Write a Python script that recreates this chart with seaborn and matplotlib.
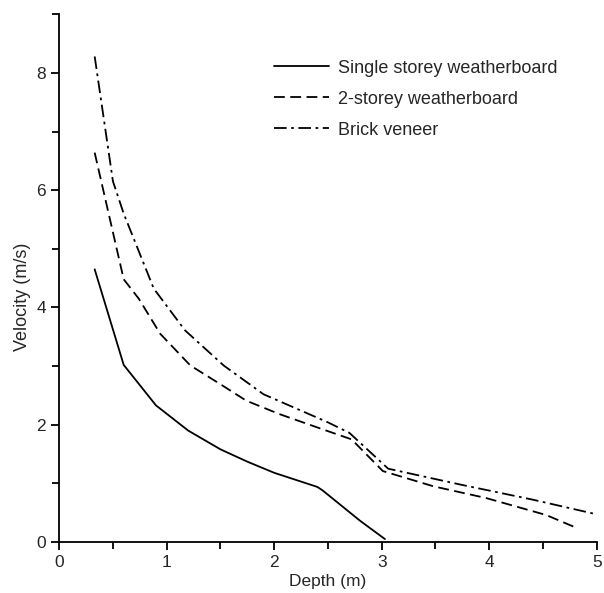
import pandas as pd
import matplotlib
matplotlib.use('Agg')
import matplotlib.pyplot as plt
import seaborn as sns
from matplotlib.ticker import MultipleLocator

# Values
single_depth = [0.33, 0.60, 0.90, 1.20, 1.50, 1.75, 2.00, 2.40, 2.45, 2.80, 3.03]
single_vel = [4.65, 3.02, 2.33, 1.90, 1.58, 1.37, 1.18, 0.94, 0.88, 0.36, 0.05]

two_depth = [0.33, 0.60, 0.74, 0.94, 1.22, 1.50, 1.74, 2.05, 2.50, 2.72, 3.01, 3.48, 3.97, 4.53, 4.80]
two_vel = [6.64, 4.48, 4.15, 3.55, 3.01, 2.69, 2.41, 2.18, 1.89, 1.75, 1.21, 0.95, 0.75, 0.46, 0.25]

brick_depth = [0.33, 0.50, 0.60, 0.88, 1.17, 1.53, 1.90, 2.50, 2.70, 3.06, 3.73, 4.41, 4.98]
brick_vel = [8.28, 6.15, 5.60, 4.32, 3.61, 3.01, 2.52, 2.04, 1.86, 1.25, 0.98, 0.72, 0.48]

labels = ['Single storey weatherboard', '2-storey weatherboard', 'Brick veneer']

df = pd.concat([
    pd.DataFrame({'Depth': single_depth, 'Velocity': single_vel, 'House': labels[0]}),
    pd.DataFrame({'Depth': two_depth, 'Velocity': two_vel, 'House': labels[1]}),
    pd.DataFrame({'Depth': brick_depth, 'Velocity': brick_vel, 'House': labels[2]}),
])

sns.set_style('ticks')
plt.rcParams['font.family'] = ['Liberation Sans', 'DejaVu Sans']

fig = plt.figure(figsize=(6.04, 5.93), dpi=100)
ax = fig.add_axes([0.098, 0.086, 0.89, 0.89])

dashes = {labels[0]: '', labels[1]: (6, 3), labels[2]: (7, 2.5, 1.5, 2.5)}
sns.lineplot(data=df, x='Depth', y='Velocity', style='House', dashes=dashes,
             color='black', linewidth=1.3, sort=False, estimator=None, ax=ax)

ax.set_xlim(0, 5)
ax.set_ylim(0, 9)
ax.xaxis.set_major_locator(MultipleLocator(1))
ax.xaxis.set_minor_locator(MultipleLocator(0.5))
ax.yaxis.set_major_locator(MultipleLocator(2))
ax.yaxis.set_minor_locator(MultipleLocator(1))
ax.tick_params(which='both', direction='out', color='black', width=1.3, labelsize=12.5)
ax.tick_params(which='major', length=6)
ax.tick_params(which='minor', length=5)
ax.set_xlabel('Depth (m)', fontsize=12.5, labelpad=3)
ax.set_ylabel('Velocity (m/s)', fontsize=13)
ax.yaxis.set_label_coords(-0.052, 0.465)
for s in ['top', 'right']:
    ax.spines[s].set_visible(False)
for s in ['left', 'bottom']:
    ax.spines[s].set_linewidth(1.3)
    ax.spines[s].set_color('black')

ax.legend(title=None, frameon=False, loc='upper left', bbox_to_anchor=(0.37, 0.945),
          fontsize=13, handlelength=3.0, handletextpad=0.5, labelspacing=0.78)

plt.savefig('out.png', dpi=100)
